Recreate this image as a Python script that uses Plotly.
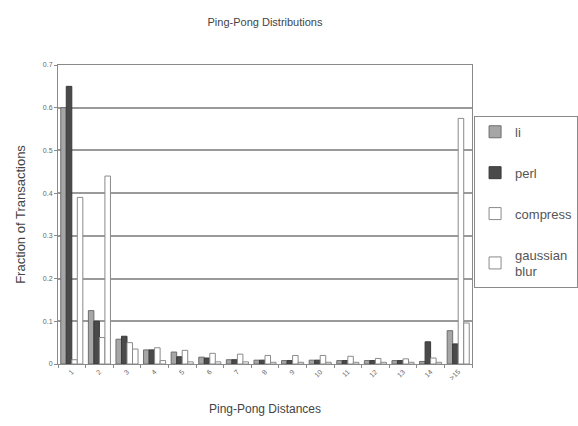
import plotly.graph_objects as go

categories = ["1", "2", "3", "4", "5", "6", "7", "8", "9", "10", "11", "12", "13", "14", ">15"]
li = [0.60, 0.125, 0.058, 0.033, 0.028, 0.016, 0.010, 0.009, 0.008, 0.009, 0.008, 0.008, 0.008, 0.006, 0.078]
perl = [0.65, 0.10, 0.065, 0.033, 0.017, 0.014, 0.010, 0.009, 0.008, 0.009, 0.008, 0.008, 0.008, 0.052, 0.047]
compress = [0.01, 0.062, 0.050, 0.038, 0.032, 0.025, 0.023, 0.020, 0.020, 0.020, 0.018, 0.013, 0.012, 0.014, 0.575]
gaussian = [0.39, 0.44, 0.035, 0.008, 0.005, 0.005, 0.005, 0.004, 0.004, 0.004, 0.004, 0.004, 0.004, 0.004, 0.096]
yticks = [0, 0.1, 0.2, 0.3, 0.4, 0.5, 0.6, 0.7]
ytick_labels = ["0", "0.1", "0.2", "0.3", "0.4", "0.5", "0.6", "0.7"]

FONT = "Liberation Sans, Arial, sans-serif"
series = [
    ("li", li, "#a6a6a6", "#6e6e6e"),
    ("perl", perl, "#4a4a4a", "#3a3a3a"),
    ("compress", compress, "#ffffff", "#8a8a8a"),
    ("gaussian<br>blur", gaussian, "#ffffff", "#8a8a8a"),
]

fig = go.Figure()
for i, (name, vals, fill, line) in enumerate(series):
    fig.add_trace(go.Bar(
        x=categories, y=vals, name=name,
        marker=dict(color=fill, line=dict(color=line, width=1)),
        legendgroup=f"g{i}",
    ))

fig.update_layout(
    width=578, height=426,
    margin=dict(l=58, r=106, t=65, b=62, autoexpand=False),
    paper_bgcolor="white", plot_bgcolor="white",
    barmode="group", bargap=0.2, bargroupgap=0,
    font=dict(family=FONT, color="#555555"),
    title=dict(text="Ping-Pong Distributions", x=0.5, xref="paper", y=0.948, yanchor="middle",
               font=dict(size=11, color="#444444", family=FONT)),
    showlegend=True,
    legend=dict(x=1.005, y=0.83, xanchor="left", yanchor="top",
                bordercolor="#8a8a8a", borderwidth=1, bgcolor="white",
                font=dict(size=13, color="#555555", family=FONT),
                tracegroupgap=21, itemwidth=30),
)
fig.update_xaxes(
    showline=True, linecolor="#8a8a8a", linewidth=1, mirror=True,
    ticks="outside", ticklen=3, tickcolor="#8a8a8a", tickson="boundaries",
    tickangle=-45, tickfont=dict(size=7, color="#666666"),
    title=dict(text="Ping-Pong Distances", font=dict(size=12, color="#444444"), standoff=24),
    showgrid=False,
)
fig.update_yaxes(
    range=[0, 0.7], tickvals=yticks, ticktext=ytick_labels,
    showline=True, linecolor="#8a8a8a", linewidth=1, mirror=True,
    ticks="outside", ticklen=3, tickcolor="#8a8a8a",
    showgrid=True, gridcolor="#9a9a9a", gridwidth=1.5,
    tickfont=dict(size=7, color="#666666"),
    title=dict(text="Fraction of Transactions", font=dict(size=13, color="#444444"), standoff=14),
    zeroline=False,
)
fig.write_html("out.html")
